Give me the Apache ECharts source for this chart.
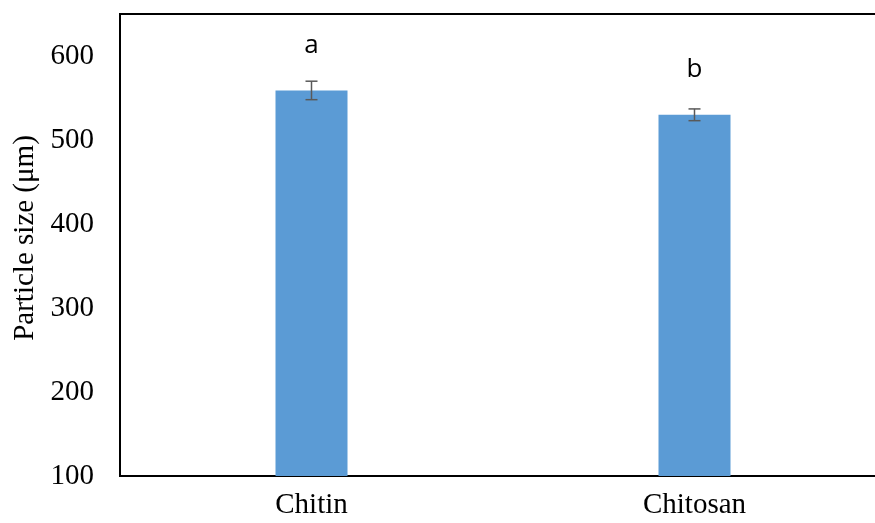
<!DOCTYPE html>
<html>
<head>
<meta charset="utf-8">
<script src="https://cdn.jsdelivr.net/npm/echarts@6/dist/echarts.min.js"></script>
<style>
  html, body { margin: 0; padding: 0; background: #fff; }
  #chart { width: 875px; height: 523px; }
</style>
</head>
<body>
<div id="chart"></div>
<script>
// Mean particle size per material, with standard deviation and significance letters
const categories = ['Chitin', 'Chitosan'];
const meanSize = [559, 530];
const sdSize = [11, 7];
const groupLetters = ['a', 'b'];
const yTicks = [100, 200, 300, 400, 500, 600];

const chart = echarts.init(document.getElementById('chart'));

const errorData = categories.map((c, i) => [i, meanSize[i] - sdSize[i], meanSize[i] + sdSize[i]]);

chart.setOption({
  animation: false,
  backgroundColor: '#ffffff',
  grid: {
    left: 120, top: 14, width: 766, height: 462,
    outerBoundsMode: 'none',
    containLabel: false,
    show: true, borderColor: '#000', borderWidth: 2, backgroundColor: 'transparent'
  },
  xAxis: {
    type: 'category',
    data: categories,
    axisLine: { lineStyle: { color: '#000', width: 2 } },
    axisTick: { show: false },
    axisLabel: {
      color: '#000', fontFamily: 'Liberation Serif', fontSize: 29, margin: 15
    }
  },
  yAxis: {
    type: 'value',
    min: 100, max: 650, interval: 100,
    name: 'Particle size (μm)',
    nameLocation: 'middle',
    nameGap: 78,
    nameTextStyle: { color: '#000', fontFamily: 'Liberation Serif', fontSize: 29, padding: [0, 0, 0, 14] },
    axisLine: { show: true, lineStyle: { color: '#000', width: 2 } },
    axisTick: { show: false },
    splitLine: { show: false },
    axisLabel: {
      color: '#000', fontFamily: 'Liberation Serif', fontSize: 29, margin: 26,
      formatter: v => (yTicks.indexOf(v) >= 0 ? String(v) : '')
    }
  },
  series: [
    {
      type: 'bar',
      data: meanSize,
      barWidth: 72,
      itemStyle: { color: '#5B9BD5' },
      label: {
        show: true,
        position: 'top',
        distance: 32,
        color: '#000',
        fontFamily: 'Open Sans',
        fontSize: 26,
        formatter: p => groupLetters[p.dataIndex]
      }
    },
    {
      type: 'custom',
      data: errorData,
      z: 10,
      renderItem: function (params, api) {
        const x = api.value(0);
        const lo = api.coord([x, api.value(1)]);
        const hi = api.coord([x, api.value(2)]);
        const cap = 6;
        const style = { stroke: '#595959', lineWidth: 1.5 };
        return {
          type: 'group',
          children: [
            { type: 'line', shape: { x1: lo[0], y1: lo[1], x2: hi[0], y2: hi[1] }, style },
            { type: 'line', shape: { x1: hi[0] - cap, y1: hi[1], x2: hi[0] + cap, y2: hi[1] }, style },
            { type: 'line', shape: { x1: lo[0] - cap, y1: lo[1], x2: lo[0] + cap, y2: lo[1] }, style }
          ]
        };
      }
    }
  ]
});
</script>
</body>
</html>
